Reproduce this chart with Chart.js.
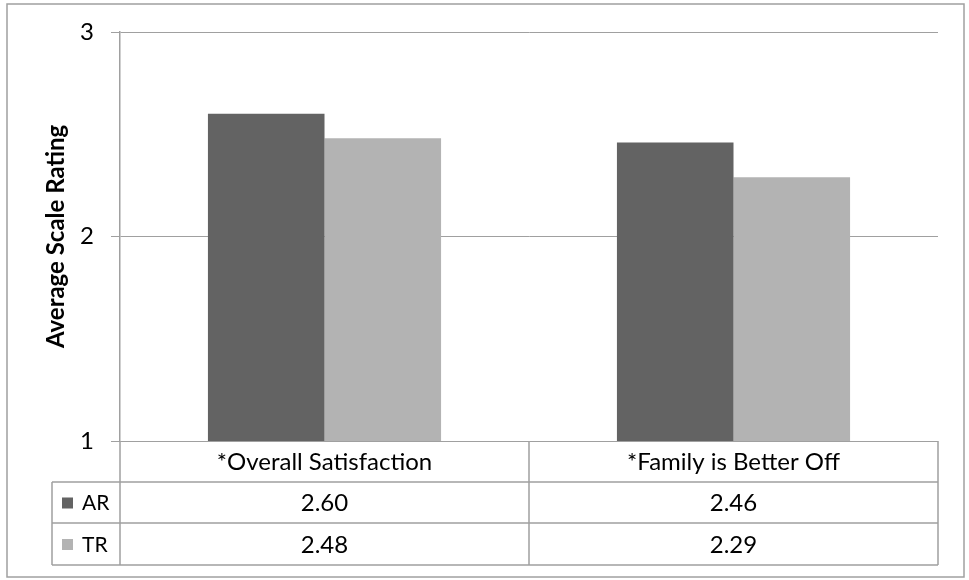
<!DOCTYPE html>
<html>
<head>
<meta charset="utf-8">
<script src="https://cdn.jsdelivr.net/npm/chart.js@4/dist/chart.umd.min.js"></script>
<style>
  html, body { margin: 0; padding: 0; background: #ffffff; }
  #wrap { width: 969px; height: 580px; position: relative; }
</style>
</head>
<body>
<div id="wrap"><canvas id="chart" width="969" height="580"></canvas></div>
<script>
// Categories, series and axis ticks
const categories = ['*Overall Satisfaction', '*Family is Better Off'];
const seriesNames = ['AR', 'TR'];
const arValues = [2.60, 2.46];
const trValues = [2.48, 2.29];
const yTicks = [1, 2, 3];

const seriesColors = ['#636363', '#b3b3b3'];
const LINE = '#a0a0a0';
const FONT = 'Lato, "Open Sans", sans-serif';

// Data table drawn under the plot, aligned with the category scale
const dataTablePlugin = {
  id: 'dataTable',
  afterDraw(chart) {
    const ctx = chart.ctx;
    const area = chart.chartArea;
    const xs = chart.scales.x;
    const n = categories.length;
    const band = (area.right - area.left) / n;
    const rows = [area.bottom, area.bottom + 41, area.bottom + 82, area.bottom + 124];
    const legendLeft = 52;
    const seriesValues = [arValues, trValues];

    ctx.save();
    ctx.strokeStyle = LINE;
    ctx.lineWidth = 1.5;
    ctx.beginPath();
    // horizontal rules
    for (let r = 1; r < rows.length; r++) {
      ctx.moveTo(legendLeft, rows[r]);
      ctx.lineTo(area.right, rows[r]);
    }
    // axis line continued through the table
    ctx.moveTo(area.left, rows[0]);
    ctx.lineTo(area.left, rows[3]);
    // category separators
    for (let i = 0; i < n; i++) {
      const right = xs.getPixelForValue(i) + band / 2;
      ctx.moveTo(right, rows[0]);
      ctx.lineTo(right, rows[3]);
    }
    // legend column left edge
    ctx.moveTo(legendLeft, rows[1]);
    ctx.lineTo(legendLeft, rows[3]);
    ctx.stroke();

    ctx.fillStyle = '#000000';
    ctx.textAlign = 'center';
    ctx.textBaseline = 'middle';
    ctx.font = '24px ' + FONT;
    for (let i = 0; i < n; i++) {
      const cx = xs.getPixelForValue(i);
      ctx.fillText(categories[i], cx, (rows[0] + rows[1]) / 2 + 1);
      for (let s = 0; s < seriesValues.length; s++) {
        ctx.fillText(seriesValues[s][i].toFixed(2), cx, (rows[s + 1] + rows[s + 2]) / 2 + 1);
      }
    }

    // legend keys
    ctx.textAlign = 'left';
    ctx.font = '21px ' + FONT;
    for (let s = 0; s < seriesNames.length; s++) {
      const cy = (rows[s + 1] + rows[s + 2]) / 2;
      ctx.fillStyle = seriesColors[s];
      ctx.fillRect(62, cy - 5, 11, 11);
      ctx.fillStyle = '#000000';
      ctx.fillText(seriesNames[s], 82, cy + 1);
    }

    // outer frame
    ctx.strokeStyle = LINE;
    ctx.lineWidth = 1.5;
    ctx.strokeRect(7, 4, 957, 573);
    ctx.restore();
  }
};

new Chart(document.getElementById('chart'), {
  type: 'bar',
  data: {
    labels: categories,
    datasets: [
      { label: seriesNames[0], data: arValues, backgroundColor: seriesColors[0], borderWidth: 0 },
      { label: seriesNames[1], data: trValues, backgroundColor: seriesColors[1], borderWidth: 0 }
    ]
  },
  options: {
    responsive: false,
    animation: false,
    devicePixelRatio: 1,
    layout: { padding: { top: 32, bottom: 139, left: 0, right: 31 } },
    datasets: { bar: { categoryPercentage: 0.57, barPercentage: 1.0 } },
    plugins: { legend: { display: false }, tooltip: { enabled: false } },
    scales: {
      x: { display: false },
      y: {
        min: yTicks[0],
        max: yTicks[yTicks.length - 1],
        afterBuildTicks(scale) { scale.ticks = yTicks.map(v => ({ value: v })); },
        afterFit(scale) { scale.width = 120; },
        ticks: { color: '#000000', padding: 17, font: { family: FONT, size: 24 } },
        grid: { color: LINE, lineWidth: 1, tickLength: 9 },
        border: { color: LINE, width: 1.5 },
        title: {
          display: true,
          text: 'Average Scale Rating',
          color: '#000000',
          font: { family: FONT, size: 24, weight: 'bold' },
          padding: { top: 42, bottom: 0 }
        }
      }
    }
  },
  plugins: [dataTablePlugin]
});
</script>
</body>
</html>
